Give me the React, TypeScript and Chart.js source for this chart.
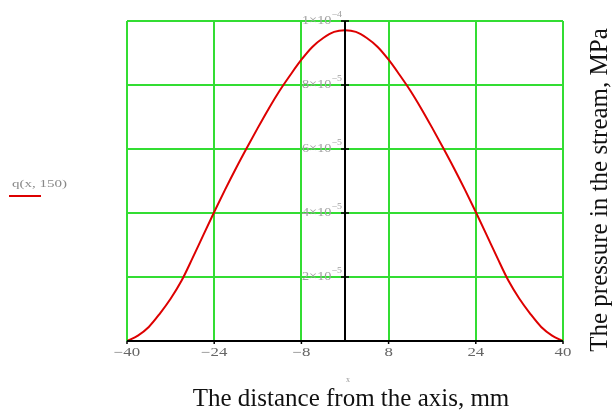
import React, { useEffect, useRef } from "react";
import { Chart, registerables } from "chart.js";

Chart.register(...registerables);

// distance from the axis, mm
const xValues = [
  -40, -38, -36, -34, -32, -30, -28, -26, -24, -22, -20, -18, -16, -14, -12, -10, -8, -6, -4, -2,
  0, 2, 4, 6, 8, 10, 12, 14, 16, 18, 20, 22, 24, 26, 28, 30, 32, 34, 36, 38, 40,
];
// q(x, 150) in units of 1e-5 MPa
const qValues = [
  0, 0.17, 0.44, 0.85, 1.32, 1.88, 2.58, 3.31, 4.03, 4.73, 5.4, 6.04, 6.66, 7.26, 7.82, 8.32, 8.79, 9.19, 9.47, 9.66,
  9.71, 9.66, 9.47, 9.19, 8.79, 8.32, 7.82, 7.26, 6.66, 6.04, 5.4, 4.73, 4.03, 3.31, 2.58, 1.88, 1.32, 0.85, 0.44, 0.17, 0,
];
const xTicks = [-40, -24, -8, 8, 24, 40];
const xTickLabels = ["\u221240", "\u221224", "\u22128", "8", "24", "40"];
const yTicks = [0, 2e-5, 4e-5, 6e-5, 8e-5, 1e-4];
const yTickMantissa = ["", "2", "4", "6", "8", "1"];
const yTickExponent = ["", "\u22125", "\u22125", "\u22125", "\u22125", "\u22124"];
const legendLabel = "q(x, 150)";
const xTitle = "The distance from the axis, mm";
const yTitle = "The pressure in the stream, MPa";
const xVarName = "x";

const GREEN = "#33dd33";
const RED = "#dd0000";
const SERIF = "'Liberation Serif', 'DejaVu Serif', serif";

function stretchText(ctx: any, text: string, x: number, y: number, sx: number) {
  ctx.save();
  ctx.translate(x, y);
  ctx.scale(sx, 1);
  ctx.fillText(text, 0, 0);
  ctx.restore();
}

const overlay = {
  id: "overlay",
  afterDatasetsDraw(chart: any) {
    const ctx = chart.ctx;
    const xs = chart.scales.x;
    const ys = chart.scales.y;
    const area = chart.chartArea;
    const x0 = xs.getPixelForValue(0);
    ctx.save();
    // central vertical axis
    ctx.strokeStyle = "#000";
    ctx.lineWidth = 2;
    ctx.beginPath();
    ctx.moveTo(x0, area.top);
    ctx.lineTo(x0, area.bottom);
    ctx.stroke();
    // bottom axis
    ctx.beginPath();
    ctx.moveTo(area.left, area.bottom);
    ctx.lineTo(area.right, area.bottom);
    ctx.stroke();
    // ticks on center axis
    ctx.lineWidth = 1.5;
    yTicks.forEach((v) => {
      if (v === 0) return;
      const py = ys.getPixelForValue(v);
      ctx.beginPath();
      ctx.moveTo(x0 - 4, py);
      ctx.lineTo(x0 + 4, py);
      ctx.stroke();
    });
    // ticks on bottom axis
    xTicks.forEach((v) => {
      const px = xs.getPixelForValue(v);
      ctx.beginPath();
      ctx.moveTo(px, area.bottom);
      ctx.lineTo(px, area.bottom + 3);
      ctx.stroke();
    });
    // y tick labels along the center axis
    ctx.fillStyle = "#a0a0a0";
    ctx.textBaseline = "middle";
    ctx.textAlign = "right";
    yTicks.forEach((v, i) => {
      if (!yTickMantissa[i]) return;
      const py = ys.getPixelForValue(v);
      ctx.font = `9px ${SERIF}`;
      const sup = yTickExponent[i];
      const supW = ctx.measureText(sup).width * 1.1;
      const right = x0 - 3;
      stretchText(ctx, sup, right, py - 6, 1.1);
      ctx.font = `13px ${SERIF}`;
      stretchText(ctx, yTickMantissa[i] + "\u00d710", right - supW, py, 1.1);
    });
    // x tick labels
    ctx.fillStyle = "#666";
    ctx.font = `12px ${SERIF}`;
    ctx.textAlign = "center";
    ctx.textBaseline = "middle";
    xTicks.forEach((v, i) => {
      stretchText(ctx, xTickLabels[i], xs.getPixelForValue(v), area.bottom + 12, 1.4);
    });
    // small variable name
    ctx.fillStyle = "#999";
    ctx.font = `8px ${SERIF}`;
    ctx.fillText(xVarName, x0 + 3, area.bottom + 39);
    // x title
    ctx.fillStyle = "#111";
    ctx.font = `25px ${SERIF}`;
    ctx.textBaseline = "alphabetic";
    ctx.fillText(xTitle, 351, 406);
    // y title (rotated)
    ctx.save();
    ctx.translate(607, 190);
    ctx.rotate(-Math.PI / 2);
    ctx.fillText(yTitle, 0, 0);
    ctx.restore();
    // legend
    ctx.fillStyle = "#888";
    ctx.font = `10px ${SERIF}`;
    ctx.textAlign = "left";
    ctx.textBaseline = "middle";
    stretchText(ctx, legendLabel, 12, 184, 1.5);
    ctx.strokeStyle = RED;
    ctx.lineWidth = 2;
    ctx.beginPath();
    ctx.moveTo(9, 196);
    ctx.lineTo(41, 196);
    ctx.stroke();
    ctx.restore();
  },
};

export default function App() {
  const ref = useRef<HTMLCanvasElement>(null);
  useEffect(() => {
    document.body.style.margin = "0";
    const canvas = ref.current!;
    const chart = new Chart(canvas, {
      type: "line",
      data: {
        datasets: [
          {
            data: xValues.map((x, i) => ({ x, y: qValues[i] * 1e-5 })),
            borderColor: RED,
            borderWidth: 2,
            pointRadius: 0,
            cubicInterpolationMode: "monotone",
            fill: false,
          },
        ],
      },
      options: {
        animation: false,
        responsive: false,
        devicePixelRatio: 1,
        layout: { padding: { left: 127, right: 52, top: 21, bottom: 69 } },
        plugins: { legend: { display: false }, tooltip: { enabled: false } },
        scales: {
          x: {
            type: "linear",
            min: -40,
            max: 40,
            afterBuildTicks: (s: any) => {
              s.ticks = xTicks.map((v) => ({ value: v }));
            },
            afterFit: (s: any) => {
              s.height = 0;
            },
            ticks: { display: false },
            grid: { color: GREEN, lineWidth: 2, drawTicks: false },
            border: { display: false },
          },
          y: {
            type: "linear",
            min: 0,
            max: 1e-4,
            afterBuildTicks: (s: any) => {
              s.ticks = yTicks.map((v) => ({ value: v }));
            },
            afterFit: (s: any) => {
              s.width = 0;
            },
            ticks: { display: false },
            grid: {
              color: (c: any) => (c.tick && c.tick.value === 0 ? "rgba(0,0,0,0)" : GREEN),
              lineWidth: 2,
              drawTicks: false,
            },
            border: { display: false },
          },
        },
      },
      plugins: [overlay],
    } as any);
    return () => chart.destroy();
  }, []);
  return (
    <div style={{ position: "absolute", left: 0, top: 0, width: 615, height: 410, background: "#fff" }}>
      <canvas ref={ref} width={615} height={410} />
    </div>
  );
}
